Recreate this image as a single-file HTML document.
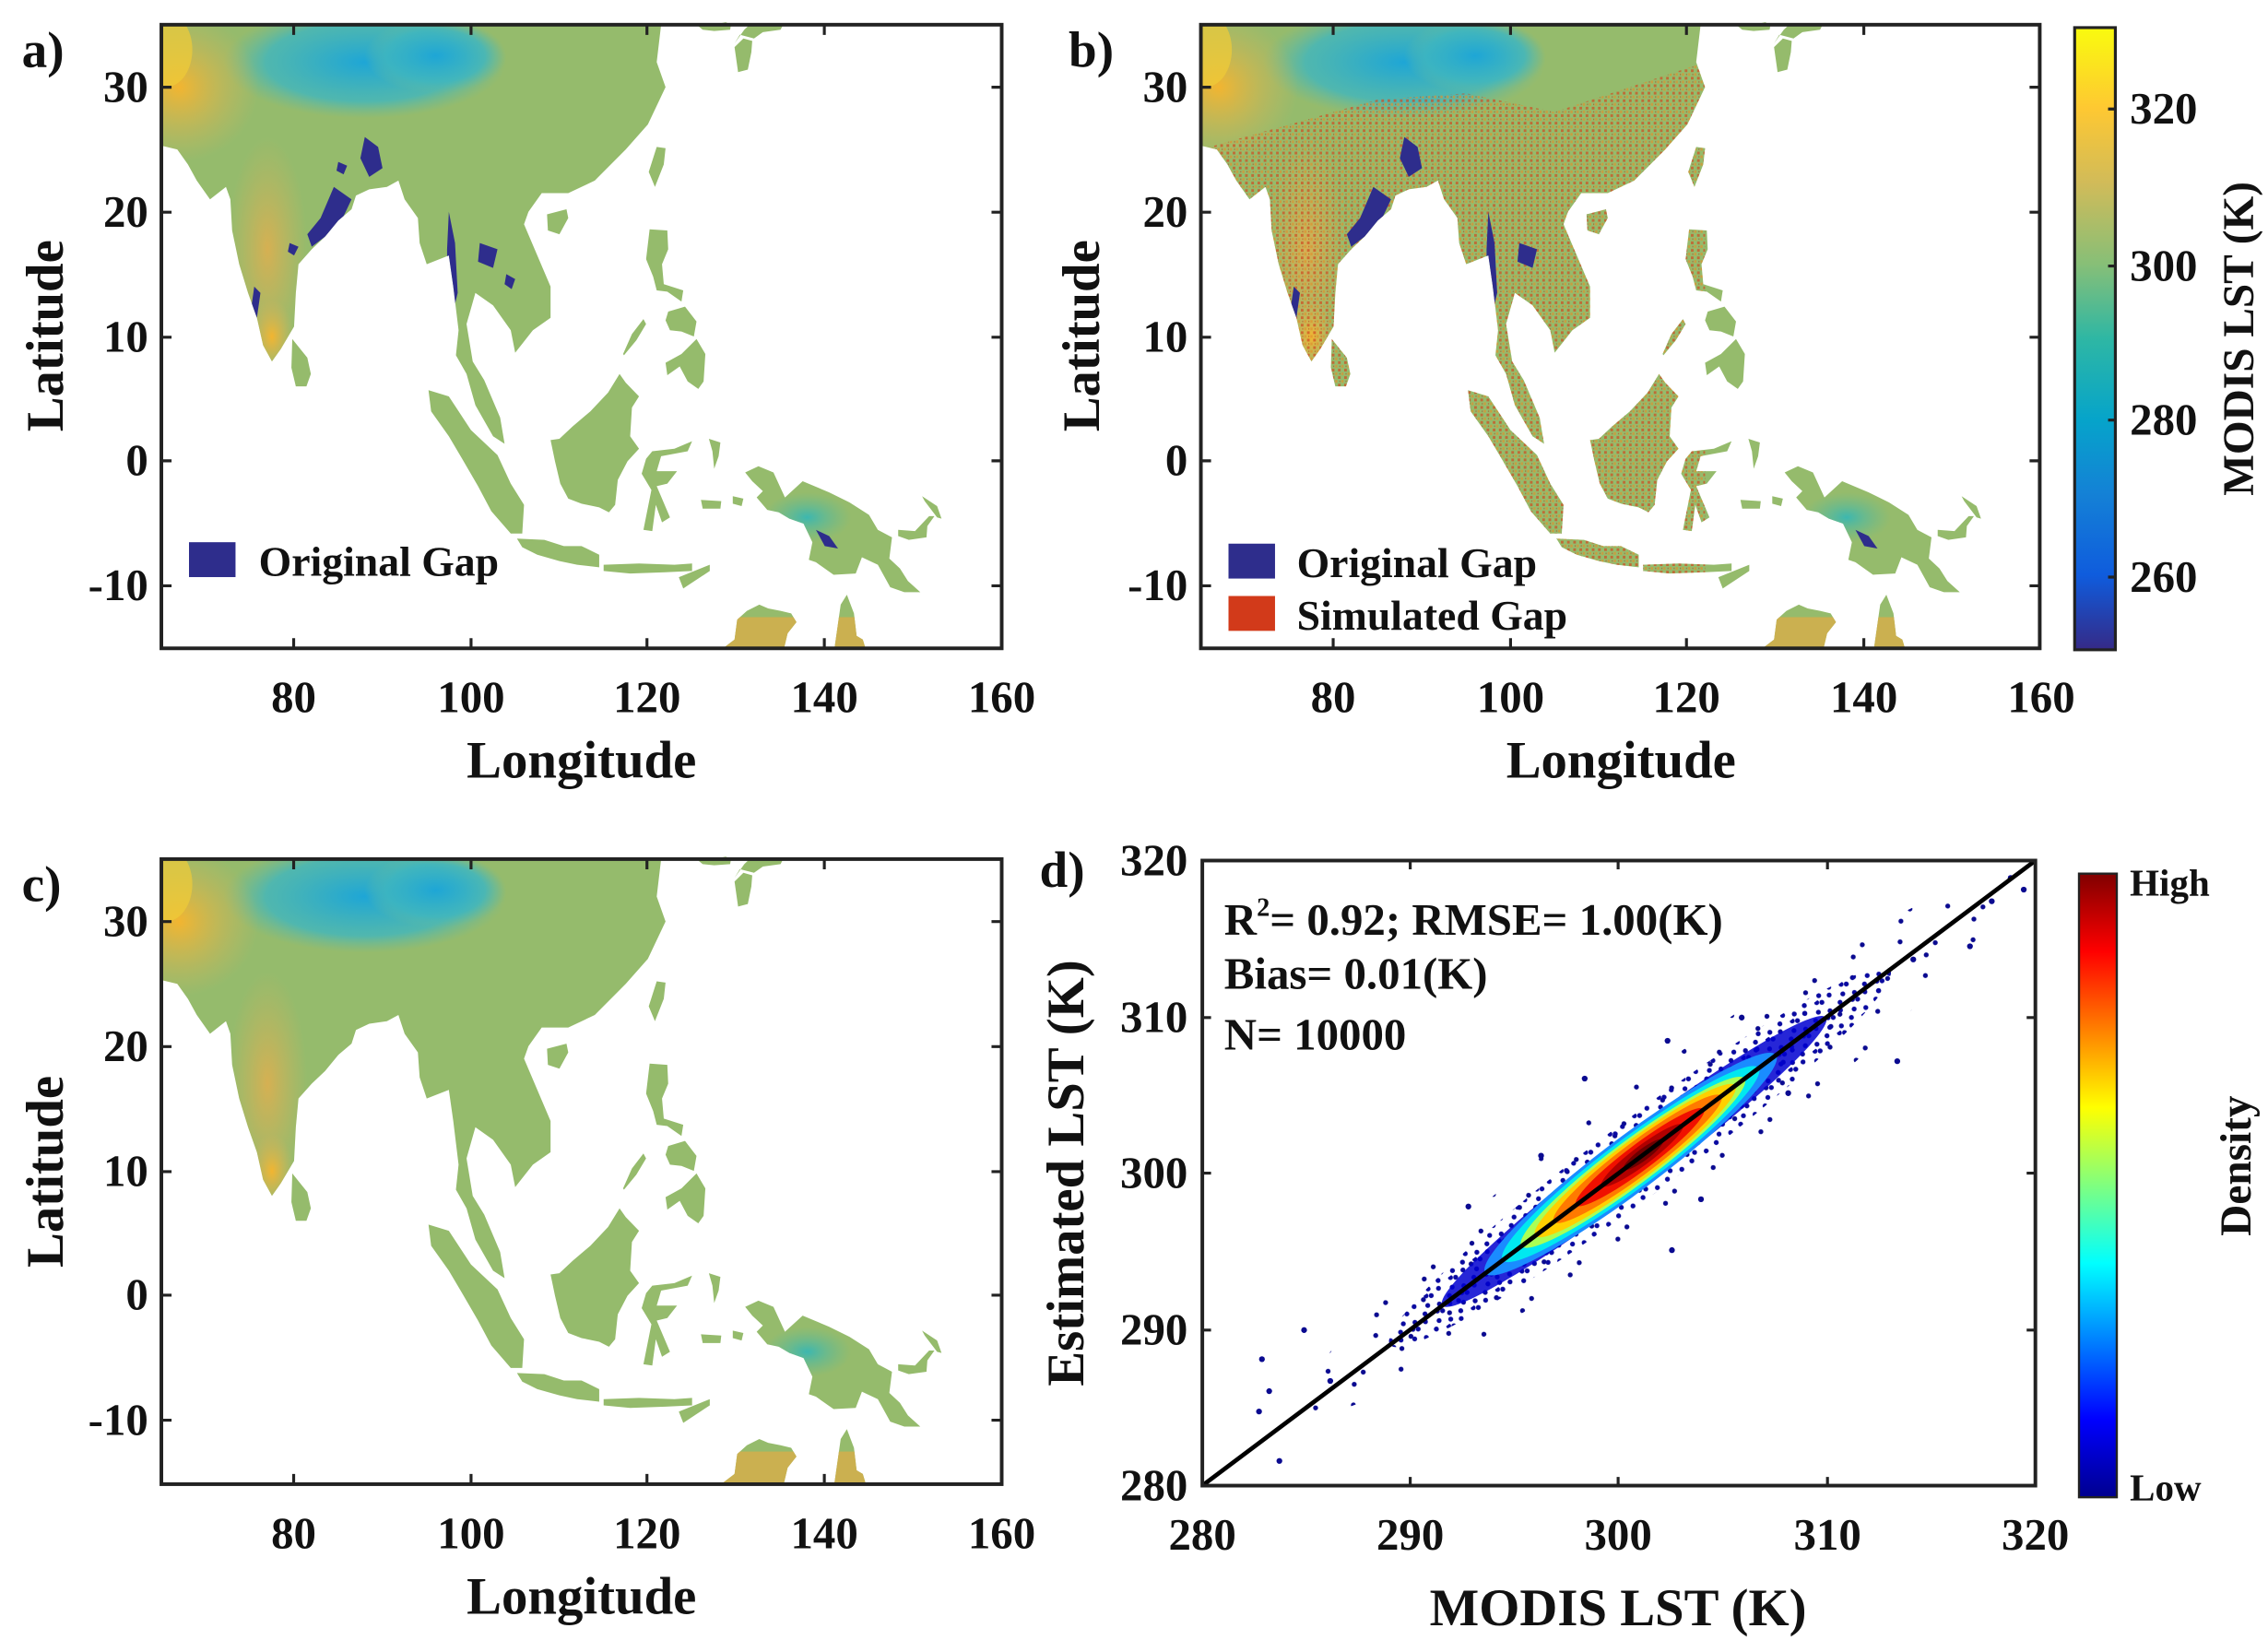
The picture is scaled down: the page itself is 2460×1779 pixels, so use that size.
<!DOCTYPE html>
<html><head><meta charset="utf-8"><style>
html,body{margin:0;padding:0;background:#fff;}
svg{display:block;}
text{font-family:"Liberation Serif",serif;font-weight:bold;fill:#111;}
</style></head><body>
<svg id="s" width="2460" height="1779" viewBox="0 0 1560 1128.2" preserveAspectRatio="none" xmlns="http://www.w3.org/2000/svg">
<defs>
<clipPath id="land" clipPathUnits="userSpaceOnUse">
<polygon points="65,35 121.5,35 121,32 122,30 120,27 117.5,25 114,22.5 111,21.5 109.5,21.5 108,21.5 106.5,20 106,19 107.5,16.5 109,14 109,11.5 107,10.5 105,8.7 104.5,10.5 102.5,12.5 100.5,13.5 99.5,11 100.2,8 101.5,6.5 103.3,3.5 103.8,1.4 102.5,2 100.5,4.5 99.5,7 98.3,8.5 98.6,10.5 98,14 97.5,16.5 95,15.8 94.2,17.5 94,19.5 92.5,21 91.8,22.5 90.5,22 88.5,21.8 87,21.3 86.5,20.2 85,19.3 83.5,18 82,17 80.5,15.8 80.2,13.5 80,10.8 78.5,9 77.5,8 76.5,9.3 75.8,11.5 74.8,13.5 73.8,15.8 73,18.5 72.8,21 72.3,22 70.5,21 69,22.5 68,23.8 66.8,25 65,25.3"/>
<polygon points="79.8,9.8 81.5,8.3 81.9,7 81.4,6 80.2,6 79.7,7.5"/>
<polygon points="108.6,19.8 110.8,20.2 111,19.5 110,18.2 108.7,18.5"/>
<polygon points="121,25.2 122,25.1 121.8,23.8 120.8,22 120.1,23.2"/>
<polygon points="95.2,5.7 97.5,5.2 100,2.5 103,0.5 104.5,-1.8 106,-3.5 105.8,-5.8 104.5,-5.8 102.3,-4 100.8,-2 99,0.2 97.5,2 95.5,4"/>
<polygon points="105.2,-6.2 108.3,-6.3 110.5,-6.8 112.5,-6.8 114.5,-7.5 114.5,-8.5 112,-8.3 110,-8 107.5,-7.5 105.8,-6.9"/>
<polygon points="115,-8.3 119,-8.2 123,-8.3 125,-8.2 125,-8.8 122,-8.9 118,-9 115,-8.8"/>
<polygon points="123.5,-9.3 127,-8.3 127,-8.8 124,-10.2"/>
<polygon points="109,1.7 110,1.8 111.5,2.8 113.5,4 115.5,5.5 116.8,7 117.5,6.3 119,5.2 118.2,4.3 118,2 119,1 117.7,0 116.6,-1.5 116.3,-3.5 115.6,-4.1 114.5,-3.7 112.5,-3.4 111,-3 110.1,-1.8 109.5,0"/>
<polygon points="119.5,-5.5 120.4,-2.3 119.3,-1 119.8,0.2 120.5,0.8 123,1 125,1.6 124.5,0.8 121.5,0.4 121,-0.8 123.3,-0.8 122.2,-1.8 121,-2 122.5,-4.5 121.6,-4.9 120.9,-3.5 120.5,-5.6"/>
<polygon points="120.2,18.6 122.2,18.5 122.3,17 121.6,15.8 121.8,14.2 124,13.7 123.8,12.8 122.2,13.6 121,13.7 120.6,14.8 119.8,16.2"/>
<polygon points="122.3,12 124.2,12.4 125.5,11.2 125.2,10 123.8,10.4 122.5,10.5 122,11.3"/>
<polygon points="118.2,10.2 119.5,11.4 119.8,11 118.7,9.7 117.3,8.5 117.2,8.6"/>
<polygon points="122,7.9 123.8,8.6 125.5,9.8 126.5,8.6 126.3,6.4 125.7,5.8 124.5,6.4 123.6,7.6 122.2,6.9"/>
<polygon points="126.9,1.8 128.2,1.5 128,0.4 127.5,-0.6 127.3,0.8"/>
<polygon points="126,-3.1 128.3,-3.2 128.2,-3.8 126.2,-3.8"/>
<polygon points="129.6,-2.8 130.8,-3 130.6,-3.6 129.6,-3.4"/>
<polygon points="131,-0.9 132.5,-0.4 134.2,-0.9 135.5,-2.9 137.5,-1.6 140.5,-2.5 142.8,-3.3 145,-4.3 146,-5.5 147.6,-6.1 147.3,-7.8 148.5,-8.6 149.4,-9.6 150.8,-10.5 149,-10.5 147.4,-10.1 146,-8.3 144.2,-7.7 143.5,-9 141,-9.1 139,-8.1 138.2,-7.9 138.6,-6.5 137.6,-5 136,-4.6 134.8,-4.1 133.5,-3.9 132.3,-2.9 133,-2.4 131.8,-1.6"/>
<polygon points="148.3,-5.5 150.2,-5.6 151.8,-4.4 152.4,-4.4 151.6,-5.2 151.5,-6.1 149.5,-6.3 148.3,-6"/>
<polygon points="151,-2.8 152.7,-3.6 153.2,-4.6 152.7,-4.5 151.3,-3.2"/>
<polygon points="128.5,-15 129.8,-14.3 130.1,-12.7 131.2,-12 132.6,-11.5 133.6,-11.8 135,-12 136.2,-12.2 136.8,-12.9 135.8,-13.8 135.4,-15"/>
<polygon points="141.1,-15 141.5,-13 141.8,-11.5 142.5,-10.7 143.3,-12.2 143.6,-14 144.3,-14.3 144.6,-15"/>
<polygon points="125.5,35 127.5,35 128.8,35.2 129.4,35 129.3,34.6 127.5,34.5 126.2,34.6"/>
<polygon points="129.8,33.5 130.4,34.2 132,33.9 133,34.4 135,34.6 135.3,35 131.5,35 130.9,34.6"/>
<polygon points="130.2,31.2 131.3,31.4 131.7,32.8 131.8,33.7 130.8,33.9 129.8,33.2"/>
</clipPath>
<pattern id="spk" patternUnits="userSpaceOnUse" width="0.7" height="0.6">
<rect x="0" y="0" width="0.3" height="0.22" fill="#d24a20" opacity="0.7"/>
<rect x="0.38" y="0.3" width="0.25" height="0.22" fill="#e0902e" opacity="0.7"/>
<rect x="0.15" y="0.35" width="0.12" height="0.12" fill="#b83a1a" opacity="0.6"/>
</pattern>
<pattern id="dots1" patternUnits="userSpaceOnUse" width="21" height="13">
<circle cx="3" cy="2" r="1.7" fill="#0a0aa0"/><circle cx="11" cy="7" r="1.7" fill="#0a0aa0"/><circle cx="17" cy="3" r="1.7" fill="#0a0aa0"/><circle cx="6" cy="10.5" r="1.7" fill="#0a0aa0"/><circle cx="18" cy="11" r="1.7" fill="#0a0aa0"/><circle cx="14" cy="1" r="1.7" fill="#0a0aa0"/>
</pattern>
<pattern id="dots2" patternUnits="userSpaceOnUse" width="41" height="29">
<circle cx="5" cy="4" r="1.7" fill="#0a0a90"/><circle cx="27" cy="18" r="1.7" fill="#0a0a90"/><circle cx="36" cy="7" r="1.7" fill="#0a0a90"/>
</pattern>
<clipPath id="c1" clipPathUnits="userSpaceOnUse"><ellipse cx="0" cy="0" rx="215" ry="26"/></clipPath>
<clipPath id="c2" clipPathUnits="userSpaceOnUse"><ellipse cx="10" cy="0" rx="300" ry="42"/></clipPath>
<linearGradient id="parula" x1="0" y1="1" x2="0" y2="0">
<stop offset="0" stop-color="#352a87"/><stop offset="0.12" stop-color="#0f5cdd"/><stop offset="0.25" stop-color="#1481d6"/><stop offset="0.37" stop-color="#06a4ca"/><stop offset="0.5" stop-color="#2eb7a4"/><stop offset="0.62" stop-color="#87bf77"/><stop offset="0.75" stop-color="#d1bb59"/><stop offset="0.87" stop-color="#fec832"/><stop offset="1" stop-color="#f9fb0e"/>
</linearGradient>
<linearGradient id="jet" x1="0" y1="1" x2="0" y2="0">
<stop offset="0" stop-color="#00008f"/><stop offset="0.125" stop-color="#0000ff"/><stop offset="0.375" stop-color="#00ffff"/><stop offset="0.625" stop-color="#ffff00"/><stop offset="0.875" stop-color="#ff0000"/><stop offset="1" stop-color="#800000"/>
</linearGradient>
<radialGradient id="tib" cx="0.5" cy="0.5" r="0.5"><stop offset="0" stop-color="#1ea6d6"/><stop offset="0.7" stop-color="#3fb6bf" stop-opacity="0.8"/><stop offset="1" stop-color="#5fbaa5" stop-opacity="0"/></radialGradient>
<radialGradient id="hot" cx="0.5" cy="0.5" r="0.5"><stop offset="0" stop-color="#f2b530"/><stop offset="1" stop-color="#d8b45a" stop-opacity="0"/></radialGradient>
<radialGradient id="warm" cx="0.5" cy="0.5" r="0.5"><stop offset="0" stop-color="#d6b052"/><stop offset="1" stop-color="#c8b45e" stop-opacity="0"/></radialGradient>
<radialGradient id="ng" cx="0.5" cy="0.5" r="0.5"><stop offset="0" stop-color="#3cb7b0"/><stop offset="1" stop-color="#5fbb95" stop-opacity="0"/></radialGradient>
<g id="mapbase">
<rect x="60" y="-20" width="105" height="60" fill="#95bb6c"/>
<ellipse cx="88" cy="32" rx="16" ry="4.5" fill="url(#tib)"/>
<ellipse cx="96" cy="32.5" rx="8" ry="3" fill="url(#tib)"/>
<ellipse cx="67" cy="30" rx="9" ry="6" fill="url(#hot)"/>
<ellipse cx="65.5" cy="33" rx="3" ry="3" fill="#f0cc38" opacity="0.7"/>
<ellipse cx="77" cy="17" rx="4.5" ry="9" fill="url(#warm)"/>
<ellipse cx="77.5" cy="10" rx="2.5" ry="3" fill="url(#hot)"/>
<ellipse cx="138" cy="-4.5" rx="5" ry="2" fill="url(#ng)"/>
<rect x="125" y="-20" width="25" height="7.5" fill="#cbb050"/>
</g>
</defs>

<!-- ================= Panel a ================= -->
<g transform="translate(111,17) scale(6.084,-8.58) translate(-65,-35)">
<g clip-path="url(#land)">
<use href="#mapbase"/>
<g fill="#2e2d8c">
<polygon points="88,26 89.5,25.2 90,23.5 88.5,22.8 87.5,24.3"/>
<polygon points="84.5,22 86.5,21 85.5,19.5 83.5,18 82,17.2 81.5,18.2 83,19.5"/>
<polygon points="97.5,20 98.2,17.5 98.5,13.5 98,12 97.3,13.5 97.3,17"/>
<polygon points="101,17.5 103,17 102.5,15.5 100.8,16"/>
<polygon points="75.5,14 76.2,13.5 75.8,11.5 75.2,12.5"/>
<polygon points="139,-5.5 140.5,-6 141.5,-7 140,-6.8"/>
<polygon points="85,24 86,23.7 85.6,23 84.8,23.3"/>
<polygon points="104,15 105,14.6 104.6,13.8 103.8,14.2"/>
<polygon points="79.5,17.5 80.5,17.2 80,16.5 79.3,16.8"/>
</g>
</g>
</g>
<rect x="111" y="17" width="578" height="429" fill="none" stroke="#222" stroke-width="2.5"/>

<!-- ================= Panel b ================= -->
<g transform="translate(826,17) scale(6.084,-8.58) translate(-65,-35)">
<g clip-path="url(#land)">
<use href="#mapbase"/>
<polygon points="65,25 85,29 95,29.5 105,28 122,32 122,-20 65,-20" fill="url(#spk)"/>
<g fill="#2e2d8c">
<polygon points="88,26 89.5,25.2 90,23.5 88.5,22.8 87.5,24.3"/>
<polygon points="84.5,22 86.5,21 85.5,19.5 83.5,18 82,17.2 81.5,18.2 83,19.5"/>
<polygon points="97.5,20 98.2,17.5 98.5,13.5 98,12 97.3,13.5 97.3,17"/>
<polygon points="101,17.5 103,17 102.5,15.5 100.8,16"/>
<polygon points="75.5,14 76.2,13.5 75.8,11.5 75.2,12.5"/>
<polygon points="139,-5.5 140.5,-6 141.5,-7 140,-6.8"/>
</g>
</g>
</g>
<rect x="826" y="17" width="577" height="429" fill="none" stroke="#222" stroke-width="2.5"/>

<!-- ================= Panel c ================= -->
<g transform="translate(111,591) scale(6.084,-8.58) translate(-65,-35)">
<g clip-path="url(#land)">
<use href="#mapbase"/>
</g>
</g>
<rect x="111" y="591" width="578" height="430" fill="none" stroke="#222" stroke-width="2.5"/>

<!-- map ticks -->
<g stroke="#222" stroke-width="2">
<path d="M202,446v-7M324,446v-7M445,446v-7M567,446v-7M202,17v7M324,17v7M445,17v7M567,17v7M111,60h7M111,146h7M111,232h7M111,317h7M111,403h7M689,60h-7M689,146h-7M689,232h-7M689,317h-7M689,403h-7"/>
<path d="M917,446v-7M1039,446v-7M1160,446v-7M1282,446v-7M917,17v7M1039,17v7M1160,17v7M1282,17v7M826,60h7M826,146h7M826,232h7M826,317h7M826,403h7M1403,60h-7M1403,146h-7M1403,232h-7M1403,317h-7M1403,403h-7"/>
<path d="M202,1021v-7M324,1021v-7M445,1021v-7M567,1021v-7M202,591v7M324,591v7M445,591v7M567,591v7M111,634h7M111,720h7M111,806h7M111,891h7M111,977h7M689,634h-7M689,720h-7M689,806h-7M689,891h-7M689,977h-7"/>
</g>

<!-- labels a -->
<g font-size="31">
<text x="15" y="46" font-size="35">a)</text>
<text x="102" y="70" text-anchor="end">30</text><text x="102" y="156" text-anchor="end">20</text><text x="102" y="242" text-anchor="end">10</text><text x="102" y="327" text-anchor="end">0</text><text x="102" y="413" text-anchor="end">-10</text>
<text x="202" y="490" text-anchor="middle">80</text><text x="324" y="490" text-anchor="middle">100</text><text x="445" y="490" text-anchor="middle">120</text><text x="567" y="490" text-anchor="middle">140</text><text x="689" y="490" text-anchor="middle">160</text>
<text x="400" y="535" text-anchor="middle" font-size="36">Longitude</text>
<text transform="translate(43,231) rotate(-90)" text-anchor="middle" font-size="36">Latitude</text>
<rect x="130" y="373" width="32" height="24" fill="#2e2d8c"/>
<text x="178" y="396" font-size="29">Original Gap</text>
</g>

<!-- labels b -->
<g font-size="31">
<text x="735" y="46" font-size="35">b)</text>
<text x="817" y="70" text-anchor="end">30</text><text x="817" y="156" text-anchor="end">20</text><text x="817" y="242" text-anchor="end">10</text><text x="817" y="327" text-anchor="end">0</text><text x="817" y="413" text-anchor="end">-10</text>
<text x="917" y="490" text-anchor="middle">80</text><text x="1039" y="490" text-anchor="middle">100</text><text x="1160" y="490" text-anchor="middle">120</text><text x="1282" y="490" text-anchor="middle">140</text><text x="1404" y="490" text-anchor="middle">160</text>
<text x="1115" y="535" text-anchor="middle" font-size="36">Longitude</text>
<text transform="translate(756,231) rotate(-90)" text-anchor="middle" font-size="36">Latitude</text>
<rect x="845" y="374" width="32" height="24" fill="#2e2d8c"/>
<rect x="845" y="410" width="32" height="24" fill="#d23a1a"/>
<text x="892" y="397" font-size="29">Original Gap</text>
<text x="892" y="433" font-size="29">Simulated Gap</text>
<rect x="1427" y="19" width="28" height="428" fill="url(#parula)" stroke="#222" stroke-width="2"/>
<path d="M1455,75h-5M1455,183h-5M1455,289h-5M1455,397h-5" stroke="#222" stroke-width="2"/>
<text x="1465" y="85">320</text><text x="1465" y="193">300</text><text x="1465" y="299">280</text><text x="1465" y="407">260</text>
<text transform="translate(1550,233) rotate(-90)" text-anchor="middle" font-size="30">MODIS LST (K)</text>
</g>

<!-- labels c -->
<g font-size="31">
<text x="15" y="620" font-size="35">c)</text>
<text x="102" y="644" text-anchor="end">30</text><text x="102" y="730" text-anchor="end">20</text><text x="102" y="816" text-anchor="end">10</text><text x="102" y="901" text-anchor="end">0</text><text x="102" y="987" text-anchor="end">-10</text>
<text x="202" y="1065" text-anchor="middle">80</text><text x="324" y="1065" text-anchor="middle">100</text><text x="445" y="1065" text-anchor="middle">120</text><text x="567" y="1065" text-anchor="middle">140</text><text x="689" y="1065" text-anchor="middle">160</text>
<text x="400" y="1110" text-anchor="middle" font-size="36">Longitude</text>
<text transform="translate(43,806) rotate(-90)" text-anchor="middle" font-size="36">Latitude</text>
</g>

<!-- ================= Panel d ================= -->
<g transform="translate(1128,796) rotate(-36.9)">
<rect x="-320" y="-45" width="640" height="90" fill="url(#dots2)" clip-path="url(#c2)"/>
<rect x="-230" y="-30" width="460" height="60" fill="url(#dots1)" clip-path="url(#c1)"/>
<ellipse cx="-5" cy="0" rx="165" ry="18" fill="#0000d0" opacity="0.85"/>
<ellipse cx="-8" cy="0" rx="125" ry="19" fill="#1a8cff"/>
<ellipse cx="-8" cy="0" rx="110" ry="17" fill="#00e8f0"/>
<ellipse cx="-6" cy="0" rx="96" ry="15" fill="#aaff55"/>
<ellipse cx="-4" cy="0" rx="86" ry="13.5" fill="#ffd000"/>
<ellipse cx="-2" cy="0" rx="72" ry="11.5" fill="#ff7a00"/>
<ellipse cx="0" cy="0" rx="55" ry="9" fill="#f01000"/>
<ellipse cx="2" cy="0" rx="35" ry="6.5" fill="#b00000"/>
<ellipse cx="3" cy="0" rx="17" ry="4" fill="#6e0000"/>
</g>
<g fill="#0a0a90">
<circle cx="868" cy="935" r="2"/><circle cx="866" cy="971" r="2"/><circle cx="880" cy="1005" r="2"/><circle cx="873" cy="957" r="2"/>
<circle cx="897" cy="915" r="2"/><circle cx="1060" cy="795" r="2"/><circle cx="1090" cy="742" r="2"/><circle cx="1230" cy="752" r="2"/>
<circle cx="1305" cy="730" r="2"/><circle cx="1383" cy="604" r="2"/><circle cx="1392" cy="612" r="2"/><circle cx="1370" cy="620" r="2"/>
<circle cx="1355" cy="651" r="2"/><circle cx="1316" cy="660" r="2"/><circle cx="1170" cy="825" r="2"/><circle cx="1150" cy="860" r="2"/>
<circle cx="1010" cy="830" r="2"/><circle cx="1198" cy="700" r="2"/><circle cx="1147" cy="716" r="2"/><circle cx="915" cy="950" r="2"/>
</g>
<line x1="827" y1="1022" x2="1400" y2="592" stroke="#000" stroke-width="3"/>
<rect x="827" y="592" width="573" height="430" fill="none" stroke="#222" stroke-width="2.5"/>
<path d="M970,1022v-6M1113,1022v-6M1257,1022v-6M970,592v6M1113,592v6M1257,592v6M827,700h6M827,807h6M827,915h6M1400,700h-6M1400,807h-6M1400,915h-6" stroke="#222" stroke-width="2"/>
<g font-size="31">
<text x="715" y="610" font-size="35">d)</text>
<text x="817" y="602" text-anchor="end">320</text><text x="817" y="710" text-anchor="end">310</text><text x="817" y="817" text-anchor="end">300</text><text x="817" y="925" text-anchor="end">290</text><text x="817" y="1032" text-anchor="end">280</text>
<text x="827" y="1066" text-anchor="middle">280</text><text x="970" y="1066" text-anchor="middle">290</text><text x="1113" y="1066" text-anchor="middle">300</text><text x="1257" y="1066" text-anchor="middle">310</text><text x="1400" y="1066" text-anchor="middle">320</text>
<text x="1113" y="1118" text-anchor="middle" font-size="36">MODIS LST (K)</text>
<text transform="translate(745,807) rotate(-90)" text-anchor="middle" font-size="36">Estimated LST (K)</text>
<text x="842" y="643">R<tspan font-size="18" dy="-13">2</tspan><tspan dy="13">= 0.92; RMSE= 1.00(K)</tspan></text>
<text x="842" y="680">Bias= 0.01(K)</text>
<text x="842" y="722">N= 10000</text>
<rect x="1430" y="601" width="26" height="429" fill="url(#jet)" stroke="#222" stroke-width="1.5"/>
<text x="1465" y="616" font-size="26">High</text>
<text x="1465" y="1032" font-size="26">Low</text>
<text transform="translate(1548,802) rotate(-90)" text-anchor="middle" font-size="30">Density</text>
</g>
</svg>
</body></html>
